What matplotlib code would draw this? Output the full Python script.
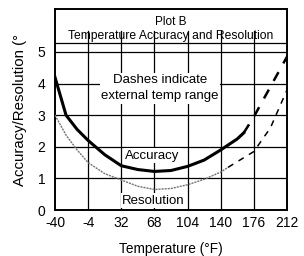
import matplotlib
matplotlib.use('Agg')
from matplotlib import pyplot as plt

plt.rcParams['font.family'] = ['Liberation Sans', 'DejaVu Sans']
plt.rcParams['axes.unicode_minus'] = False

# Werte
x_ticks = [-40, -4, 32, 68, 104, 140, 176, 212]
y_ticks = [0, 1, 2, 3, 4, 5]

acc_x = [-40, -28, -16, -4, 14, 32, 50, 68, 86, 104, 122, 140, 158, 165]
acc_y = [4.2, 3.0, 2.55, 2.2, 1.75, 1.4, 1.28, 1.22, 1.25, 1.38, 1.58, 1.9, 2.25, 2.44]
acc_dash_x = [165, 176, 194, 212]
acc_dash_y = [2.44, 2.95, 3.9, 4.85]

res_x = [-40, -28, -16, -4, 14, 32, 50, 68, 86, 104, 122, 140, 148]
res_y = [3.0, 2.37, 1.9, 1.5, 1.15, 0.95, 0.75, 0.65, 0.68, 0.8, 0.97, 1.2, 1.35]
res_dash_x = [148, 176, 194, 212]
res_dash_y = [1.35, 1.85, 2.6, 3.8]

fig = plt.figure(figsize=(3.04, 2.56), dpi=100)
ax = fig.add_axes([55 / 304, 46 / 256, 232 / 304, 201 / 256])

ax.set_xlim(-40, 212)
ax.set_ylim(0, 6.36)

# Gitter
for x in x_ticks[1:-1]:
    ax.plot([x, x], [0, 5.65], color='black', linewidth=0.9, zorder=1)
for y in y_ticks[1:]:
    ax.axhline(y=y, color='black', linewidth=0.9, zorder=1)
ax.axhline(y=5.28, color='black', linewidth=0.9, zorder=1)

# Kurven
ax.plot(acc_x, acc_y, color='black', linewidth=2.2, zorder=3)
ax.plot(acc_dash_x, acc_dash_y, color='black', linewidth=1.8, dashes=(4, 4), zorder=3)
ax.plot(res_x, res_y, color='0.45', linewidth=1.0, linestyle=(0, (1.5, 0.7)), zorder=3)
ax.plot(res_dash_x, res_dash_y, color='black', linewidth=1.1, dashes=(4, 4), zorder=3)

box = dict(facecolor='white', edgecolor='none', pad=1)
ax.text(74, 3.85, "Dashes indicate\nexternal temp range", ha='center', va='center',
        fontsize=9.5, linespacing=1.45, bbox=box, zorder=4)
ax.text(66, 1.72, "Accuracy", ha='center', va='center', fontsize=9.5, bbox=box, zorder=4)
ax.text(67, 0.3, "Resolution", ha='center', va='center', fontsize=9.5, bbox=box, zorder=4)

ax.text(86, 5.95, "Plot B", ha='center', va='center', fontsize=8.5, zorder=4)
ax.text(86, 5.5, "Temperature Accuracy and Resolution", ha='center', va='center', fontsize=8.7, zorder=4)

ax.set_xticks(x_ticks)
ax.set_yticks(y_ticks)
ax.tick_params(length=0, labelsize=10)
ax.tick_params(axis='y', pad=7)
ax.tick_params(axis='x', pad=4)
for s in ax.spines.values():
    s.set_linewidth(1.4)

ax.set_xlabel("Temperature (°F)", fontsize=9.8, labelpad=9)
fig.text(20 / 304, (256 - 186) / 256, "Accuracy/Resolution (°", rotation=90,
         ha='center', va='bottom', fontsize=10.8)

fig.savefig('out.png', dpi=100)
